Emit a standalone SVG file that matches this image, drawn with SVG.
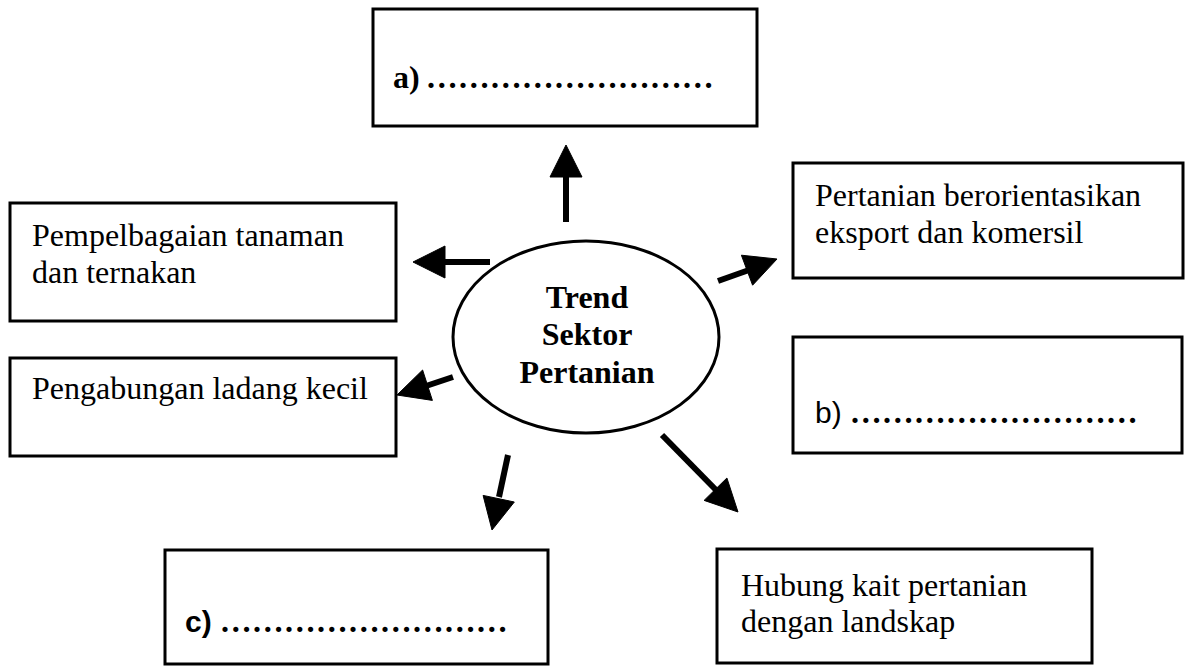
<svg xmlns="http://www.w3.org/2000/svg" width="1189" height="667" viewBox="0 0 1189 667">
<defs>
<style>
.box{fill:#fff;stroke:#000;stroke-width:3}
.t{font-family:"Liberation Serif","Times New Roman",serif;font-size:32px;fill:#000}
.tb{font-family:"Liberation Serif","Times New Roman",serif;font-size:32px;font-weight:bold;fill:#000}
.ts{font-family:"Liberation Sans",Arial,sans-serif;font-size:30px;fill:#000}
.dots{font-family:"Liberation Serif","Times New Roman",serif;font-size:32px;font-weight:bold;fill:#000}
.shaft{stroke:#000;stroke-width:6;fill:none}
.head{fill:#000;stroke:#000;stroke-width:1;stroke-linejoin:miter}
</style>
</defs>
<rect width="1189" height="667" fill="#fff"/>
<g id="node-a">
<rect class="box" x="373" y="9" width="384" height="117"/>
<text class="tb" x="393" y="88">a)<tspan class="dots" dx="6">………………………</tspan></text>
</g>
<g id="node-pempelbagaian">
<rect class="box" x="10" y="203" width="386" height="118"/>
<text class="t" x="32" y="246">Pempelbagaian tanaman</text>
<text class="t" x="32" y="283">dan ternakan</text>
</g>
<g id="node-pengabungan">
<rect class="box" x="10" y="358" width="386" height="98"/>
<text class="t" x="32" y="399">Pengabungan ladang kecil</text>
</g>
<g id="node-center">
<ellipse cx="586" cy="337" rx="133" ry="96" fill="#fff" stroke="#000" stroke-width="3"/>
<text class="tb" x="587" y="308" text-anchor="middle">Trend</text>
<text class="tb" x="587" y="345" text-anchor="middle">Sektor</text>
<text class="tb" x="587" y="383" text-anchor="middle">Pertanian</text>
</g>
<g id="node-pertanian">
<rect class="box" x="793" y="163" width="390" height="115"/>
<text class="t" x="815" y="206">Pertanian berorientasikan</text>
<text class="t" x="815" y="243">eksport dan komersil</text>
</g>
<g id="node-b">
<rect class="box" x="793" y="337" width="389" height="116"/>
<text class="ts" x="815" y="423">b)<tspan class="dots" dx="8">………………………</tspan></text>
</g>
<g id="node-c">
<rect class="box" x="165" y="550" width="383" height="114"/>
<text class="ts" x="185" y="632" font-weight="bold">c)<tspan class="dots" dx="8">………………………</tspan></text>
</g>
<g id="node-hubung">
<rect class="box" x="717" y="549" width="375" height="114"/>
<text class="t" x="741" y="596">Hubung kait pertanian</text>
<text class="t" x="741" y="632">dengan landskap</text>
</g>
<g id="connectors">
<line class="shaft" x1="566" y1="222" x2="566" y2="175"/>
<polygon class="head" points="566,145 582,177 550,177"/>
<line class="shaft" x1="490" y1="262" x2="443" y2="262"/>
<polygon class="head" points="413,262 445,246 445,278"/>
<line class="shaft" x1="453" y1="377" x2="426" y2="386"/>
<polygon class="head" points="397,395 422.6,370 432.4,400.4"/>
<line class="shaft" x1="718" y1="281" x2="749" y2="270"/>
<polygon class="head" points="777,259 752.6,285.2 741.4,255.2"/>
<line class="shaft" x1="508" y1="455" x2="499" y2="497"/>
<polygon class="head" points="492,530 483.1,495.4 514.3,502"/>
<line class="shaft" x1="662" y1="435" x2="717" y2="491"/>
<polygon class="head" points="738,512 704.1,500.4 726.9,478"/>
</g>
</svg>
